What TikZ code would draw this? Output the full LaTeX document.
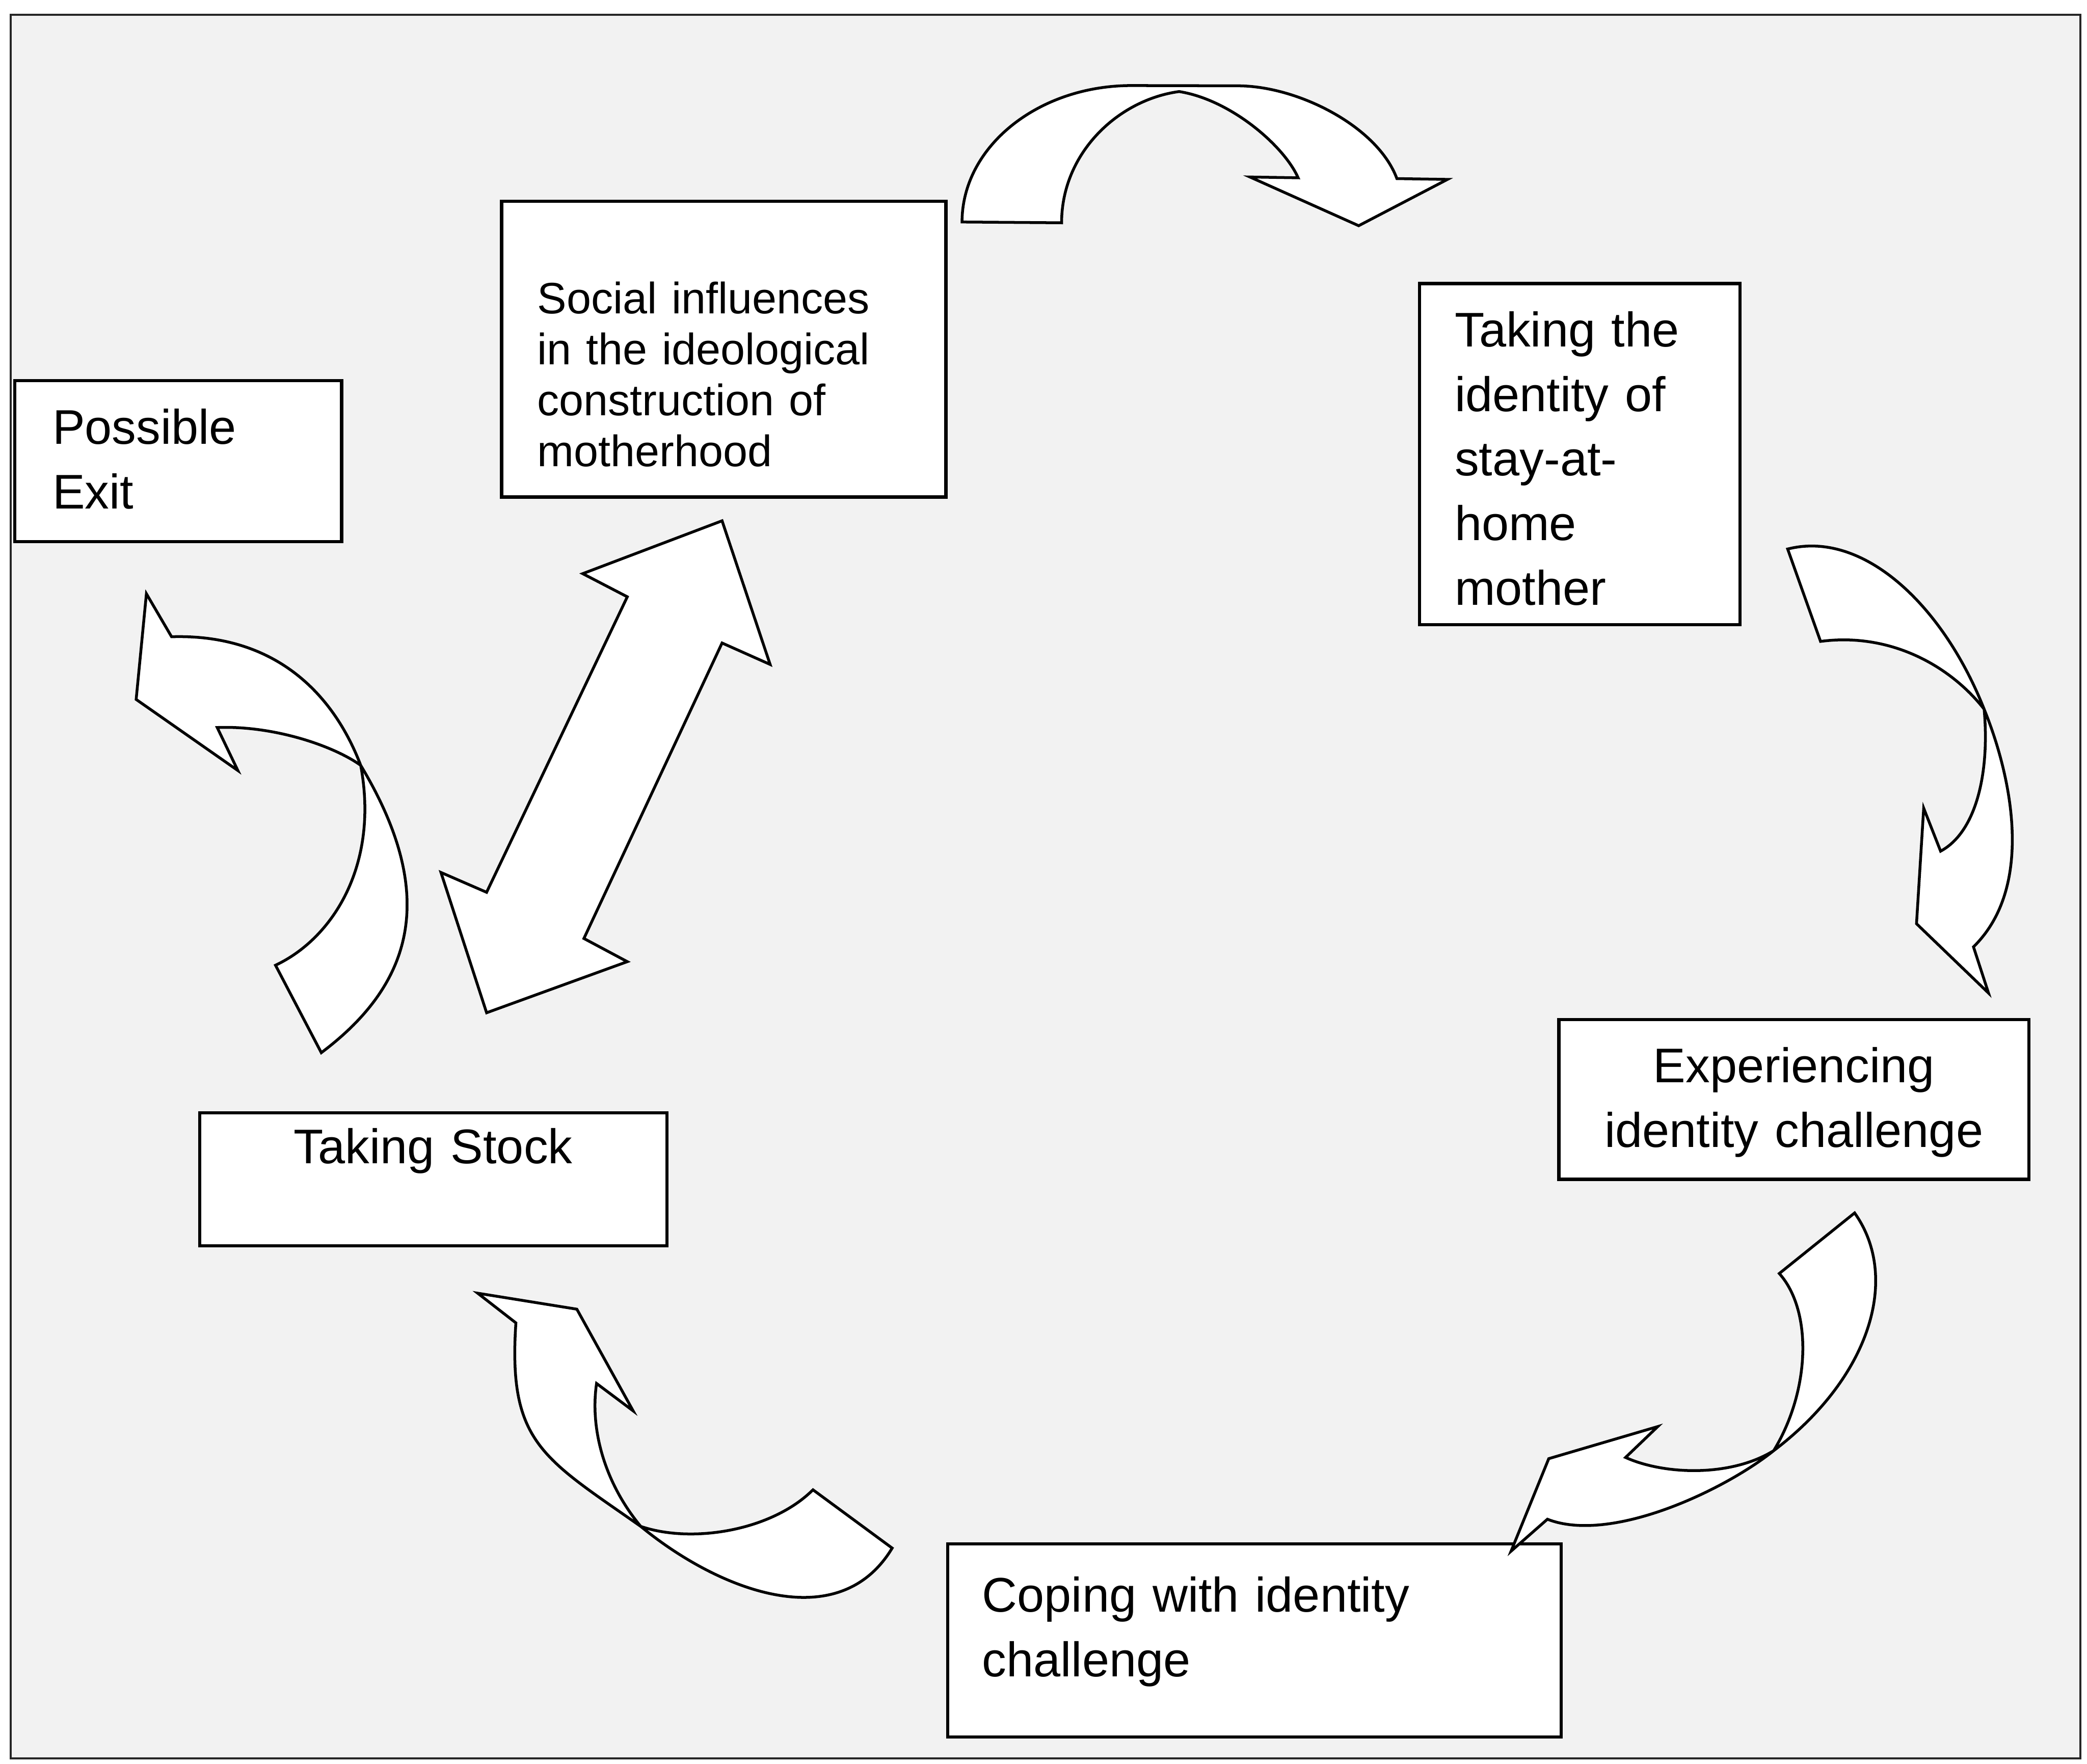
\documentclass[tikz,border=0pt]{standalone}
\usepackage{fontspec}
\setmainfont{Liberation Sans}
\usepackage{tikz}
\tikzset{
  fx/.style={x=0.1mm, y=-0.1mm},
  m frame/.style={draw=black!85, line width=0.45pt},
  m box/.style={draw, fill=white, line width=0.7pt, anchor=north west, outer sep=0pt,
                inner ysep=0pt, align=left, font=\fontsize{10.4}{13.8}\selectfont},
  m mid/.style={m box, align=center, inner xsep=1mm},
  m small/.style={m box, font=\fontsize{9.4}{10.9}\selectfont},
  m arr/.style={draw, fill=white, line width=0.6pt, line join=miter},
}

\begin{document}
\begin{tikzpicture}[fx]
\useasboundingbox (0,0) rectangle (1568,1325);
\fill[white] (0,0) rectangle (1568,1325);
\filldraw[m frame, fill=black!5] (8,11) rectangle (1563,1321);
% ---- stages ----
\node[m box, inner xsep=2.83mm, text width=18.89mm, text height=4.78mm, text depth=7.32mm] (exit) at (11.2,286) {Possible\\Exit};
\node[m small, inner xsep=2.68mm, text width=28.02mm, text height=8.44mm, text depth=13.79mm] (social) at (376.9,151.2) {Social influences\\in the ideological\\construction of\\motherhood};
\node[m box, inner xsep=2.64mm, text width=18.78mm, text height=4.74mm, text depth=20.89mm] (ident) at (1066.6,213.1) {Taking the\\identity of\\stay-at-\\home\\mother};
\node[m mid, text width=33.32mm, text height=4.73mm, text depth=7.27mm] (exper) at (1171.2,766) {Experiencing\\identity challenge};
\node[m box, inner xsep=2.6mm, text width=40.9mm, text height=5.1mm, text depth=9.4mm] (coping) at (712,1160) {Coping with identity\\challenge};
\node[m mid, text width=33.1mm, text height=3.8mm, text depth=6.2mm] (stock) at (150,836) {Taking Stock};
% ---- curved block arrows ----
% social -> ident
\draw[m arr] (722.8,166.8) .. controls (722.8,110.2) and (780,64.3) .. (850,64.3) -- (930,64.5)
  .. controls (975,64.5) and (1035,95) .. (1049.5,134.2) -- (1087.5,134.8) -- (1020.8,169.6)
  -- (939.1,133) -- (975.3,133.6) .. controls (965,110) and (925,75) .. (885.9,68.8)
  .. controls (840,75) and (797.6,115) .. (797.6,167.4) -- cycle;
% ident -> exper
\draw[m arr] (1343.1,412.5) .. controls (1400,398) and (1460,455) .. (1490.7,532.8)
  .. controls (1510,580) and (1530,665) .. (1482.7,711.4) -- (1494,746.1) -- (1439.9,694)
  -- (1445.3,607.2) -- (1458,639.5) .. controls (1485,625) and (1495,580) .. (1490.7,532.8)
  .. controls (1465,500) and (1420,475) .. (1367.8,481.9) -- cycle;
% exper -> coping
\draw[m arr] (1393.4,911.3) .. controls (1428,960) and (1405,1035) .. (1332.6,1089.9)
  .. controls (1295,1120) and (1210,1160) .. (1162.6,1141.4) -- (1135.3,1165.4) -- (1163.6,1095.9)
  -- (1245.5,1071.8) -- (1221.3,1095) .. controls (1250,1108) and (1300,1110) .. (1332.6,1089.9)
  .. controls (1360,1045) and (1362,985) .. (1336.8,956.8) -- cycle;
% coping -> stock
\draw[m arr] (433.4,983.6) -- (475.7,1060) -- (448.2,1039.4)
  .. controls (443,1075) and (455,1115) .. (481.4,1146.8)
  .. controls (540,1195) and (630,1230) .. (670.3,1163.1) -- (610.8,1119.3)
  .. controls (580,1150) and (520,1160) .. (481.4,1146.8)
  .. controls (407.7,1095.1) and (381.6,1083.9) .. (387.6,993.9) -- (358.9,971.6) -- cycle;
% stock -> exit
\draw[m arr] (102.3,525.5) -- (110,446.1) -- (128.9,478.4)
  .. controls (210,476) and (252,525) .. (271,575)
  .. controls (327.7,669.3) and (313.4,736.9) .. (241.4,790.9) -- (207,725.2)
  .. controls (250,705) and (285,650) .. (271,575)
  .. controls (250,560) and (205,545) .. (163.2,546.6) -- (178.7,578.9) -- cycle;
% ---- two-way arrow social <-> stock ----
\draw[m arr] (542.5,391.3) -- (578.6,499.2) -- (542.5,483.1) -- (438.7,705.1) -- (471.3,722.5)
  -- (365.6,760.9) -- (331.3,655.5) -- (365.6,670.4) -- (471.3,448.4) -- (437.8,431) -- cycle;
\end{tikzpicture}
\end{document}
